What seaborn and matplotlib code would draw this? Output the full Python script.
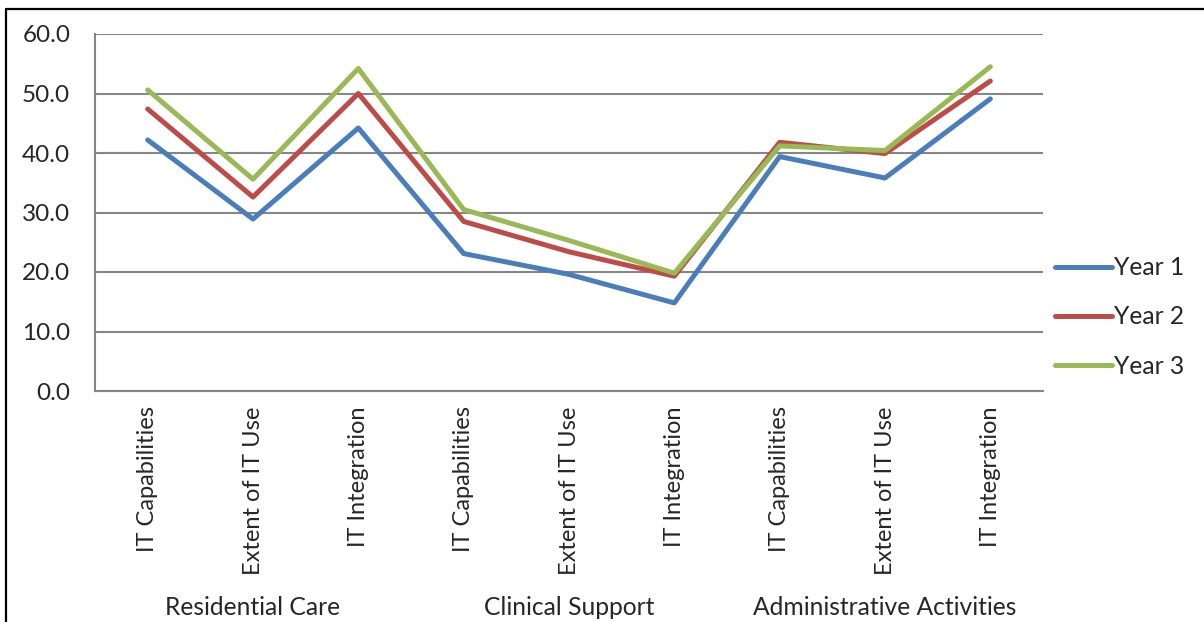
import matplotlib
matplotlib.use("Agg")
import matplotlib.pyplot as plt
import seaborn as sns
import pandas as pd
from matplotlib.lines import Line2D

categories = ["IT Capabilities", "Extent of IT Use", "IT Integration",
              "IT Capabilities", "Extent of IT Use", "IT Integration",
              "IT Capabilities", "Extent of IT Use", "IT Integration"]
groups = ["Residential Care", "Clinical Support", "Administrative Activities"]
year1 = [42.2, 28.9, 44.2, 23.1, 19.6, 14.8, 39.4, 35.8, 49.1]
year2 = [47.4, 32.6, 50.0, 28.5, 23.4, 19.3, 41.8, 39.9, 52.1]
year3 = [50.6, 35.6, 54.2, 30.5, 25.3, 19.8, 41.2, 40.4, 54.5]
series_names = ["Year 1", "Year 2", "Year 3"]
colors = ["#4A7EBB", "#BE4B48", "#98B954"]

rows = []
for name, vals in zip(series_names, [year1, year2, year3]):
    for i, v in enumerate(vals):
        rows.append({"pos": i, "value": v, "series": name})
df = pd.DataFrame(rows)

sns.set_style("white")
plt.rcParams["font.family"] = ["Lato", "DejaVu Sans"]

fig = plt.figure(figsize=(12.04, 6.22), dpi=100)
ax = fig.add_axes([95/1204, 1-391/622, (1043-95)/1204, (391-34)/622])

sns.lineplot(data=df, x="pos", y="value", hue="series", palette=colors,
             linewidth=3.6, ax=ax, legend=False, sort=False)

ax.set_xlim(-0.5, 8.5)
ax.set_ylim(0, 60)
ax.set_yticks(range(0, 61, 10))
ax.set_yticklabels([f"{v:.1f}" for v in range(0, 61, 10)], fontsize=17.5)
ax.set_xticks(range(len(categories)))
ax.set_xticklabels(categories, rotation=90, fontsize=17, va="top")
ax.set_xlabel("")
ax.set_ylabel("")
ax.grid(axis="y", color="#868686", linewidth=1.5)
ax.set_axisbelow(True)
for s in ["top", "right"]:
    ax.spines[s].set_visible(False)
for s in ["left", "bottom"]:
    ax.spines[s].set_color("#868686")
    ax.spines[s].set_linewidth(1.5)
ax.tick_params(axis="y", length=5.8, width=1.5, color="#868686", pad=12)
ax.tick_params(axis="x", length=0, pad=11)

for j, g in enumerate(groups):
    xc = 1 + 3*j
    xfig = (95 + (xc + 0.5) * (1043-95)/9) / 1204
    fig.text(xfig, 1-619/622, g, ha="center", va="bottom", fontsize=17.7)

handles = [Line2D([0], [0], color=c, lw=3.6, solid_capstyle="round") for c in colors]
fig.legend(handles, series_names, loc="center left",
           bbox_to_anchor=(1038/1204, 1-317/622), frameon=False,
           fontsize=17.7, handlelength=2.3, handletextpad=0.1, labelspacing=1.07,
           borderpad=0.2)

fig.add_artist(Line2D([6/1204, 6/1204], [0, 1-9/622], color="black", lw=1.6,
                      transform=fig.transFigure))
fig.add_artist(Line2D([6/1204, 1.0], [1-9/622, 1-9/622], color="black", lw=1.6,
                      transform=fig.transFigure))

fig.savefig("out.png", dpi=100)
